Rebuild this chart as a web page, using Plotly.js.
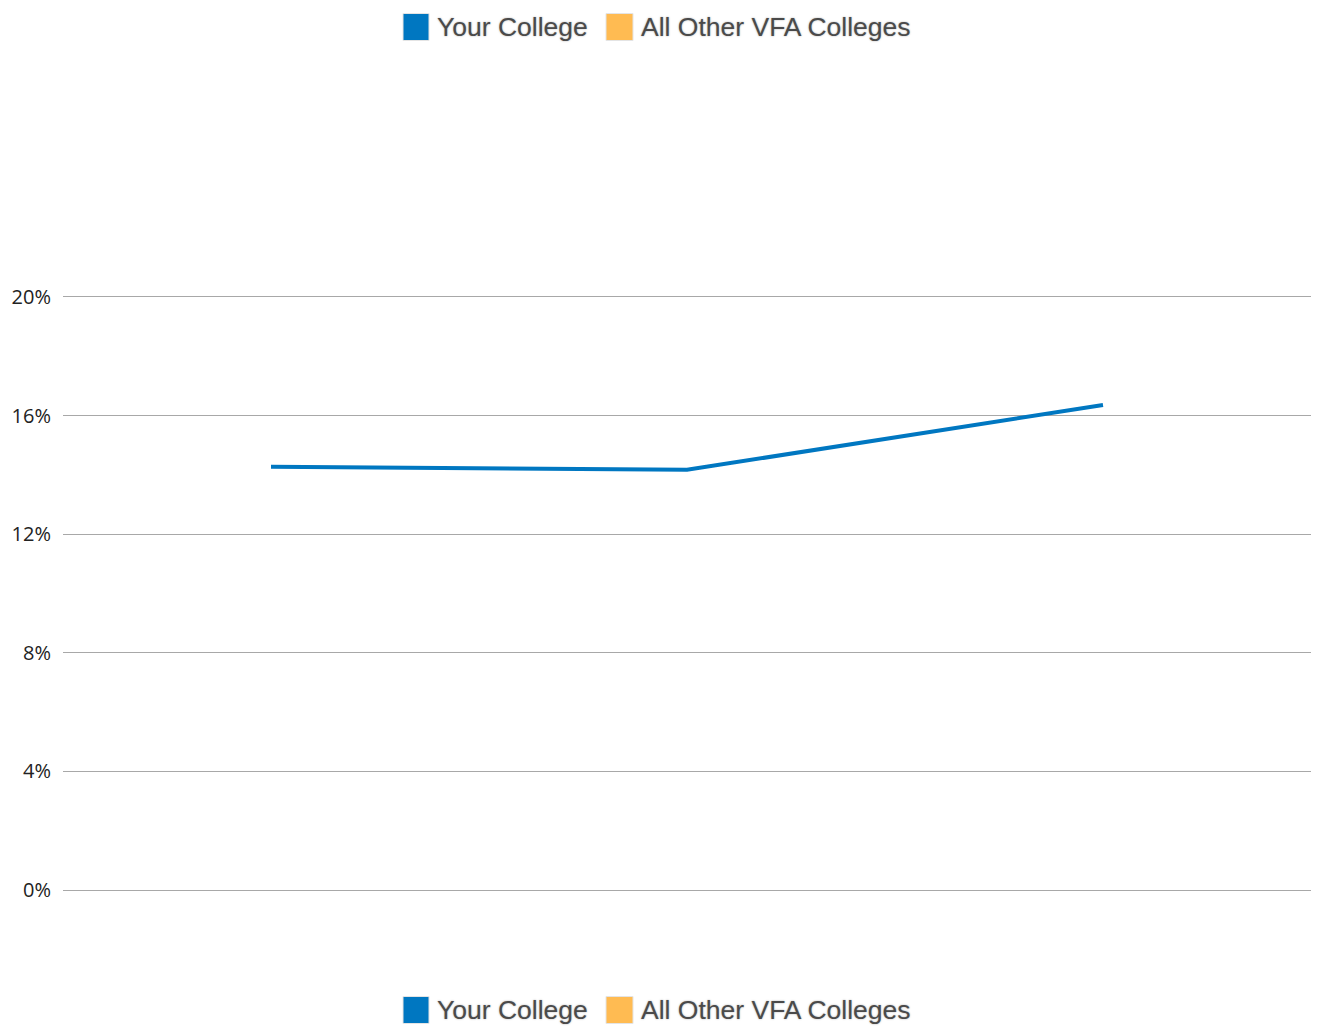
<!DOCTYPE html>
<html>
<head>
<meta charset="utf-8">
<script src="https://cdn.plot.ly/plotly-3.0.1.min.js"></script>
<style>html,body{margin:0;padding:0;background:#fff;}#chart{width:1321px;height:1030px;}</style>
</head>
<body>
<div id="chart"></div>
<script>
// ---- data ----
const categories = ["Period 1", "Period 2", "Period 3"];
const yourCollege = [14.27, 14.17, 16.36];
const allOtherColleges = [null, null, null];
const seriesNames = ["Your College", "All Other VFA Colleges"];
const seriesColors = ["#0077c1", "#ffbb52"];
const yTickValues = [0, 4, 8, 12, 16, 20];
const yTickLabels = ["0%", "4%", "8%", "12%", "16%", "20%"];

// ---- helpers for pixel -> paper ----
const W = 1321, H = 1030;
const M = {l: 63, r: 10, t: 294, b: 140};
const pw = W - M.l - M.r, ph = H - M.t - M.b;
const px = x => (x - M.l) / pw;
const py = y => (H - M.b - y) / ph;

const shapes = [];
const annotations = [];
function addLegend(centerY) {
  const sq = [[403, 429], [606, 633]];
  const tx = [435, 639];
  for (let i = 0; i < seriesNames.length; i++) {
    shapes.push({
      type: "rect", xref: "paper", yref: "paper",
      x0: px(sq[i][0]), x1: px(sq[i][1]),
      y0: py(centerY + 13.5), y1: py(centerY - 13.5),
      fillcolor: seriesColors[i], line: {color: "#e4e4e4", width: 1}
    });
    annotations.push({
      xref: "paper", yref: "paper", x: px(tx[i]), y: py(centerY),
      xanchor: "left", yanchor: "middle", showarrow: false,
      text: seriesNames[i],
      font: {family: "Liberation Sans, Arial, sans-serif", size: 26.5, color: "#4a4a4a",
             shadow: "0px 0px 2px #aaaaaa"}
    });
  }
}
addLegend(27);
addLegend(1010);

const traces = [
  {
    type: "scatter", mode: "lines", name: seriesNames[0],
    x: categories, y: yourCollege,
    line: {color: seriesColors[0], width: 4},
    hoverinfo: "none", showlegend: false
  },
  {
    type: "scatter", mode: "lines", name: seriesNames[1],
    x: categories, y: allOtherColleges,
    line: {color: seriesColors[1], width: 4},
    hoverinfo: "none", showlegend: false
  }
];

const layout = {
  width: W, height: H,
  margin: M,
  paper_bgcolor: "#ffffff", plot_bgcolor: "#ffffff",
  showlegend: false,
  xaxis: {
    type: "category", range: [-0.5, 2.5],
    showgrid: false, zeroline: false, showline: false,
    showticklabels: false, ticks: ""
  },
  yaxis: {
    range: [0, 20.1], tickvals: yTickValues, ticktext: yTickLabels,
    showgrid: true, gridcolor: "#a8a8a8", gridwidth: 1,
    zeroline: true, zerolinecolor: "#a8a8a8", zerolinewidth: 1,
    showline: false, ticks: "", ticklabelstandoff: 11,
    tickfont: {family: "Open Sans, Noto Sans, sans-serif", size: 20, color: "#222"}
  },
  shapes: shapes,
  annotations: annotations
};

Plotly.newPlot("chart", traces, layout, {displayModeBar: false, staticPlot: true});
</script>
</body>
</html>
